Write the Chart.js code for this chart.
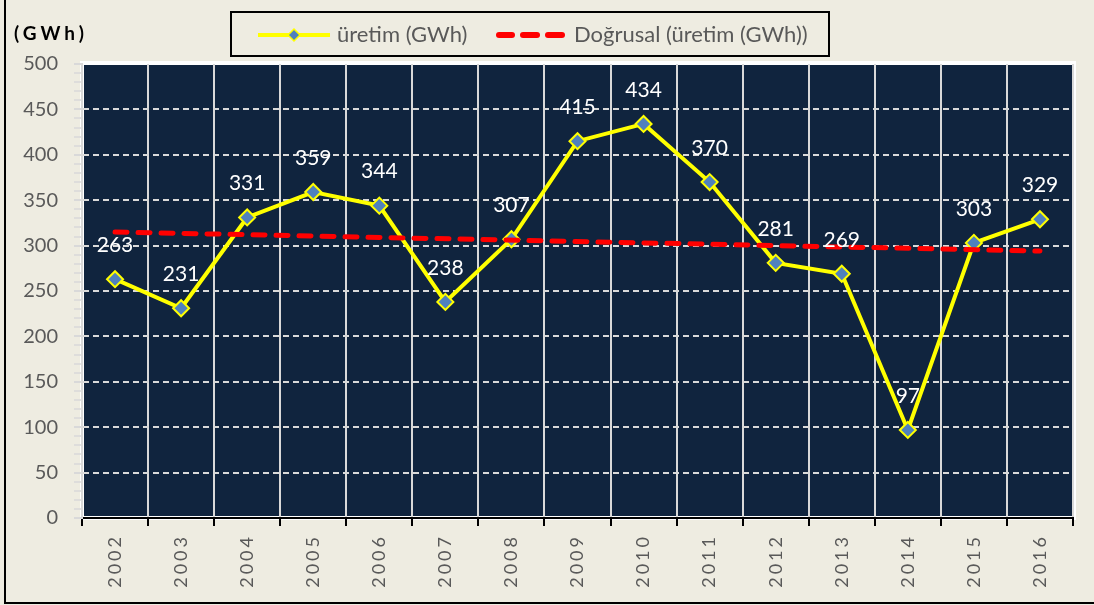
<!DOCTYPE html>
<html>
<head>
<meta charset="utf-8">
<script src="https://cdn.jsdelivr.net/npm/chart.js@4/dist/chart.umd.min.js"></script>
<style>
  body { margin: 0; background: #eeece1; }
  canvas { display: block; }
</style>
</head>
<body>
<canvas id="myChart" width="1094" height="605"></canvas>
<script>
const years = ['2002', '2003', '2004', '2005', '2006', '2007', '2008', '2009', '2010', '2011', '2012', '2013', '2014', '2015', '2016'];
const uretim = [263, 231, 331, 359, 344, 238, 307, 415, 434, 370, 281, 269, 97, 303, 329];
// trend line read at its two ends, the line between is straight
const dogrusal = [315, null, null, null, null, null, null, null, null, null, null, null, null, null, 294];
const yTicks = [0, 50, 100, 150, 200, 250, 300, 350, 400, 450, 500];

const navy = '#10243e';
const gridGray = '#d9d9d9';
const textGray = '#595959';

// background, outer border, plot frame
const framePlugin = {
  id: 'frame',
  beforeDraw(chart) {
    const ctx = chart.ctx;
    const a = chart.chartArea;
    ctx.save();
    ctx.fillStyle = '#eeece1';
    ctx.fillRect(0, 0, chart.width, chart.height);
    ctx.strokeStyle = '#000';
    ctx.lineWidth = 2;
    ctx.beginPath();
    ctx.moveTo(5, 0);
    ctx.lineTo(5, 603);
    ctx.lineTo(chart.width, 603);
    ctx.stroke();
    ctx.fillStyle = navy;
    ctx.fillRect(a.left, a.top, a.right - a.left, a.bottom - a.top);
    ctx.strokeStyle = '#ffffff';
    ctx.lineWidth = 4;
    ctx.strokeRect(a.left, a.top - 1, a.right - a.left + 1, a.bottom - a.top + 1);
    // unit title
    ctx.fillStyle = '#000';
    ctx.font = 'bold 19px Lato';
    ctx.letterSpacing = '4px';
    ctx.textBaseline = 'middle';
    ctx.textAlign = 'left';
    ctx.fillText('(GWh)', 14, 34);
    ctx.restore();
  }
};

// value labels above the points
const valueLabels = {
  id: 'valueLabels',
  afterDatasetsDraw(chart) {
    const ctx = chart.ctx;
    const meta = chart.getDatasetMeta(0);
    ctx.save();
    ctx.fillStyle = '#ffffff';
    ctx.font = '21px Lato';
    ctx.textAlign = 'center';
    ctx.textBaseline = 'middle';
    meta.data.forEach((pt, i) => {
      ctx.fillText(String(uretim[i]), pt.x, pt.y - 34);
    });
    ctx.restore();
  }
};

// legend box drawn by hand to get the line + diamond sample
const legendBox = {
  id: 'legendBox',
  afterDraw(chart) {
    const ctx = chart.ctx;
    const ds = chart.data.datasets;
    ctx.save();
    ctx.strokeStyle = '#000';
    ctx.lineWidth = 2;
    ctx.strokeRect(231, 12, 598, 44);
    const y = 35;
    // first item
    ctx.strokeStyle = ds[0].borderColor;
    ctx.lineWidth = 4;
    ctx.beginPath();
    ctx.moveTo(258, y);
    ctx.lineTo(330, y);
    ctx.stroke();
    ctx.fillStyle = ds[0].pointBackgroundColor;
    ctx.strokeStyle = ds[0].pointBorderColor;
    ctx.lineWidth = 1.5;
    ctx.beginPath();
    ctx.moveTo(294, y - 6);
    ctx.lineTo(300, y);
    ctx.lineTo(294, y + 6);
    ctx.lineTo(288, y);
    ctx.closePath();
    ctx.fill();
    ctx.stroke();
    // second item
    ctx.strokeStyle = ds[1].borderColor;
    ctx.lineWidth = 6;
    ctx.lineCap = 'round';
    [[499, 512], [523, 537], [548, 562]].forEach(d => {
      ctx.beginPath();
      ctx.moveTo(d[0], y);
      ctx.lineTo(d[1], y);
      ctx.stroke();
    });
    ctx.fillStyle = textGray;
    ctx.font = '22px Lato';
    ctx.textBaseline = 'middle';
    ctx.textAlign = 'left';
    ctx.fillText(ds[0].label, 337, y);
    ctx.fillText(ds[1].label, 574, y);
    ctx.restore();
  }
};

const ctx = document.getElementById('myChart').getContext('2d');

const chart = new Chart(ctx, {
  type: 'line',
  data: {
    labels: years,
    datasets: [{
      label: 'üretim (GWh)',
      data: uretim,
      borderColor: '#ffff00',
      borderWidth: 4,
      pointStyle: 'rectRot',
      pointRadius: 8,
      pointBackgroundColor: '#4f81bd',
      pointBorderColor: '#ffff00',
      pointBorderWidth: 2,
      tension: 0,
      order: 2
    }, {
      label: 'Doğrusal (üretim (GWh))',
      data: dogrusal,
      spanGaps: true,
      borderColor: '#ff0000',
      borderWidth: 5,
      borderDash: [12, 11],
      borderCapStyle: 'round',
      pointRadius: 0,
      order: 1
    }]
  },
  options: {
    responsive: false,
    animation: false,
    layout: { padding: { left: 0, right: 21, top: 64, bottom: 0 } },
    plugins: {
      legend: { display: false },
      tooltip: { enabled: false }
    },
    scales: {
      x: {
        offset: true,
        afterFit: s => { s.height = 87; },
        grid: {
          offset: true,
          color: gridGray,
          lineWidth: 2,
          tickColor: '#000',
          tickLength: 8,
          tickWidth: 2
        },
        border: { color: '#000', width: 2 },
        ticks: {
          minRotation: 90,
          maxRotation: 90,
          padding: 8,
          color: textGray,
          font: { family: 'Lato', size: 18 }
        }
      },
      y: {
        min: 0,
        max: 500,
        afterFit: s => { s.width = 82; },
        afterBuildTicks: s => {
          // minor marks every 10
          const t = [];
          for (let v = 0; v <= 500; v += 10) t.push({ value: v });
          s.ticks = t;
        },
        grid: {
          color: c => (c.tick && yTicks.includes(c.tick.value) && c.tick.value > 0 && c.tick.value < 500) ? gridGray : 'rgba(0,0,0,0)',
          lineWidth: 2,
          borderDash: [6, 4],
          tickColor: gridGray,
          tickLength: 8,
          tickWidth: c => (c.tick && yTicks.includes(c.tick.value)) ? 2 : 1.5,
          tickBorderDash: []
        },
        border: { color: gridGray, width: 2, dash: [6, 4] },
        ticks: {
          autoSkip: false,
          padding: 16,
          color: textGray,
          font: { family: 'Lato', size: 20 },
          callback: v => yTicks.includes(v) ? String(v) : ''
        }
      }
    }
  },
  plugins: [framePlugin, valueLabels, legendBox]
});

// spaced year labels
const xs = chart.scales.x;
const origLabels = xs.drawLabels.bind(xs);
xs.drawLabels = function (area) {
  this.ctx.save();
  this.ctx.letterSpacing = '3px';
  origLabels(area);
  this.ctx.restore();
};
chart.draw();
</script>
</body>
</html>
